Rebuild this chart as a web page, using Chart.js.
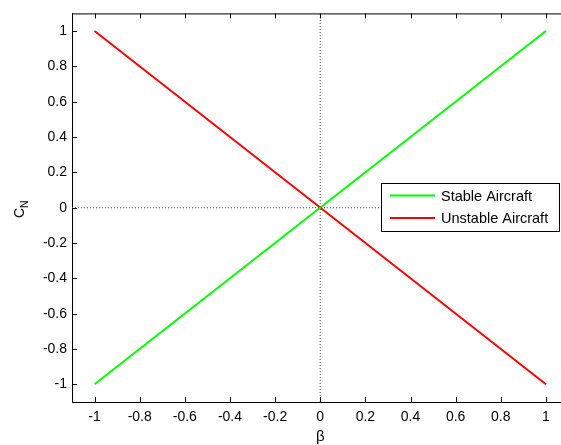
<!DOCTYPE html>
<html>
<head>
<meta charset="utf-8">
<script src="https://cdn.jsdelivr.net/npm/chart.js@4/dist/chart.umd.min.js"></script>
<style>
  html, body { margin: 0; padding: 0; background: #fff; overflow: hidden; }
  #wrap { width: 561px; height: 445px; overflow: hidden; }
  canvas { display: block; }
</style>
</head>
<body>
<div id="wrap"><canvas id="chart" width="580" height="445"></canvas></div>
<script>
const betaValues = [-1, 1];
const stableCN = [-1, 1];
const unstableCN = [1, -1];
const seriesNames = ['Stable Aircraft', 'Unstable Aircraft'];
const seriesColors = ['#00ff00', '#ff0000'];
const axisRange = [-1.1, 1.1];
const tickValues = [-1, -0.8, -0.6, -0.4, -0.2, 0, 0.2, 0.4, 0.6, 0.8, 1];
const tickLabels = ['-1', '-0.8', '-0.6', '-0.4', '-0.2', '0', '0.2', '0.4', '0.6', '0.8', '1'];

const FONT = "'Liberation Sans', Arial, sans-serif";

const toPoints = (xs, ys) => xs.map((x, i) => ({ x: x, y: ys[i] }));

const zeroStyle = { borderColor: '#555', borderWidth: 1, borderDash: [1, 2], pointRadius: 0, showLine: true };

const fixTicks = scale => { scale.ticks = tickValues.map(v => ({ value: v })); };

const matlabAxes = {
    id: 'matlabAxes',
    afterDraw(chart) {
        const { ctx, chartArea: a, scales: { x, y } } = chart;
        ctx.save();
        ctx.strokeStyle = '#000';
        ctx.lineWidth = 1;
        // top border
        ctx.beginPath();
        ctx.moveTo(a.left, a.top + 0.5);
        ctx.lineTo(a.right, a.top + 0.5);
        ctx.stroke();
        // inward ticks
        ctx.beginPath();
        tickValues.forEach(v => {
            const px = Math.round(x.getPixelForValue(v)) + 0.5;
            ctx.moveTo(px, a.bottom); ctx.lineTo(px, a.bottom - 5);
            ctx.moveTo(px, a.top); ctx.lineTo(px, a.top + 5);
            const py = Math.round(y.getPixelForValue(v)) + 0.5;
            ctx.moveTo(a.left, py); ctx.lineTo(a.left + 5, py);
        });
        ctx.stroke();

        // legend box
        const lx = 381, ly = 183, lw = 178, lh = 48;
        ctx.fillStyle = '#fff';
        ctx.fillRect(lx, ly, lw, lh);
        ctx.strokeRect(lx + 0.5, ly + 0.5, lw, lh);
        ctx.font = '14.5px ' + FONT;
        ctx.textBaseline = 'middle';
        ctx.textAlign = 'left';
        seriesNames.forEach((name, i) => {
            const ry = ly + 12.5 + i * 22.5;
            ctx.strokeStyle = seriesColors[i];
            ctx.lineWidth = 2;
            ctx.beginPath();
            ctx.moveTo(390, ry); ctx.lineTo(435, ry);
            ctx.stroke();
            ctx.fillStyle = '#000';
            ctx.fillText(name, 441, ry + 1);
        });

        // axis titles
        ctx.fillStyle = '#000';
        ctx.font = '15px ' + FONT;
        ctx.textAlign = 'center';
        ctx.textBaseline = 'middle';
        ctx.fillText('\u03b2', x.getPixelForValue(0), 437);

        ctx.translate(20, 209);
        ctx.rotate(-Math.PI / 2);
        ctx.textAlign = 'left';
        ctx.font = '14px ' + FONT;
        ctx.fillText('C', -9, 0);
        ctx.font = '10.5px ' + FONT;
        ctx.fillText('N', 1, 5);
        ctx.restore();
    }
};

new Chart(document.getElementById('chart'), {
    type: 'scatter',
    data: {
        datasets: [
            Object.assign({ data: toPoints(axisRange, [0, 0]) }, zeroStyle),
            Object.assign({ data: toPoints([0, 0], axisRange) }, zeroStyle),
            { label: seriesNames[0], data: toPoints(betaValues, stableCN), borderColor: seriesColors[0], borderWidth: 2, pointRadius: 0, showLine: true },
            { label: seriesNames[1], data: toPoints(betaValues, unstableCN), borderColor: seriesColors[1], borderWidth: 2, pointRadius: 0, showLine: true }
        ]
    },
    options: {
        responsive: false,
        animation: false,
        events: [],
        layout: { padding: { top: 12, right: 11.5, left: 0, bottom: 0 } },
        plugins: { legend: { display: false }, tooltip: { enabled: false } },
        scales: {
            x: {
                type: 'linear',
                min: axisRange[0], max: axisRange[1],
                afterBuildTicks: fixTicks,
                afterFit: s => { s.height = 43; },
                grid: { display: false, drawTicks: false },
                border: { display: true, color: '#000', width: 1 },
                ticks: { padding: 7, color: '#000', font: { family: FONT, size: 14 }, maxRotation: 0, autoSkip: false,
                    callback: v => tickLabels[tickValues.indexOf(v)] }
            },
            y: {
                type: 'linear',
                min: axisRange[0], max: axisRange[1],
                afterBuildTicks: fixTicks,
                afterFit: s => { s.width = 72; },
                grid: { display: false, drawTicks: false },
                border: { display: true, color: '#000', width: 1 },
                ticks: { padding: 5, color: '#000', font: { family: FONT, size: 14 }, autoSkip: false,
                    callback: v => tickLabels[tickValues.indexOf(v)] }
            }
        }
    },
    plugins: [matlabAxes]
});
</script>
</body>
</html>
